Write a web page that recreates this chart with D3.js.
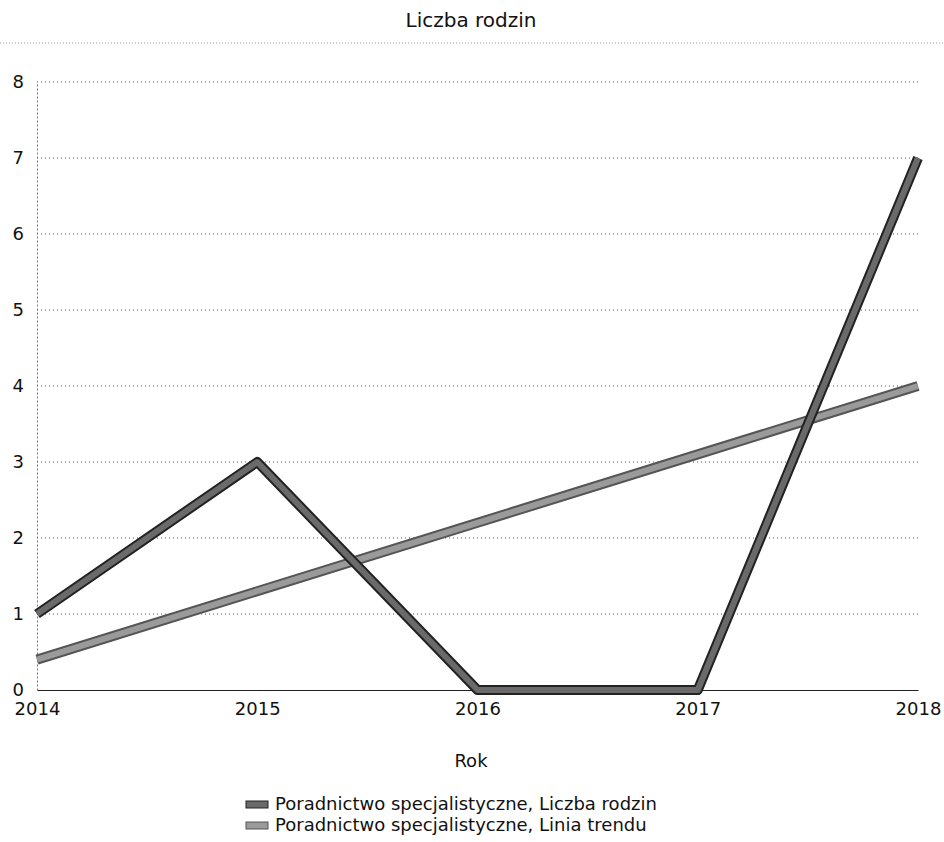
<!DOCTYPE html>
<meta charset="utf-8">
<style>
  body { margin: 0; background: #fff; }
  text { font-family: "DejaVu Sans", sans-serif; fill: #111; }
</style>
<svg id="chart" width="944" height="842"></svg>
<script src="https://d3js.org/d3.v7.min.js"></script>
<script>

// data
var years = [2014, 2015, 2016, 2017, 2018];
var rodziny = [1, 3, 0, 0, 7];
var trend = [0.4, 1.3, 2.2, 3.1, 4.0];
var yTicks = [0, 1, 2, 3, 4, 5, 6, 7, 8];
var legendLabels = ["Poradnictwo specjalistyczne, Liczba rodzin", "Poradnictwo specjalistyczne, Linia trendu"];

var svg = d3.select("#chart");

var x = d3.scaleLinear().domain([2014, 2018]).range([37, 918]);
var y = d3.scaleLinear().domain([0, 8]).range([690, 82]);

// title + dotted rule under it
svg.append("text")
  .attr("x", 471).attr("y", 27)
  .attr("text-anchor", "middle")
  .style("font-size", "20px")
  .text("Liczba rodzin");
svg.append("line")
  .attr("x1", 0).attr("x2", 944).attr("y1", 43).attr("y2", 43)
  .attr("stroke", "#999").attr("stroke-dasharray", "1,2");

// grid
svg.append("g")
  .selectAll("line")
  .data(yTicks.filter(function(d) { return d > 0; }))
  .enter().append("line")
    .attr("x1", x(2014)).attr("x2", x(2018))
    .attr("y1", function(d) { return y(d); })
    .attr("y2", function(d) { return y(d); })
    .attr("stroke", "#555")
    .attr("stroke-dasharray", "1,3");

// axes
var yAxis = svg.append("g")
  .attr("transform", "translate(" + x(2014) + ",0)")
  .call(d3.axisLeft(y).tickValues(yTicks).tickSize(0).tickPadding(13));
yAxis.select(".domain").attr("stroke", "#777").attr("stroke-dasharray", "2,2");
yAxis.selectAll("text").style("font-size", "18px").style("font-family", "\"DejaVu Sans\", sans-serif");

var xAxis = svg.append("g")
  .attr("transform", "translate(0," + y(0) + ")")
  .call(d3.axisBottom(x).tickValues(years).tickFormat(d3.format("d")).tickSize(0).tickPadding(12));
xAxis.select(".domain").attr("stroke", "#222");
xAxis.selectAll("text").style("font-size", "18px").style("font-family", "\"DejaVu Sans\", sans-serif");

svg.append("text")
  .attr("x", 471).attr("y", 767)
  .attr("text-anchor", "middle")
  .style("font-size", "18px")
  .text("Rok");

// lines: dark outline, grey fill
var line = d3.line()
  .x(function(d, i) { return x(years[i]); })
  .y(function(d) { return y(d); });

var series = [
  { values: rodziny, outer: "#222", inner: "#6a6a6a" },
  { values: trend, outer: "#555", inner: "#9a9a9a" }
];

series.slice().reverse().forEach(function(s) {
  svg.append("path").datum(s.values)
    .attr("d", line).attr("fill", "none")
    .attr("stroke", s.outer).attr("stroke-width", 10)
    .attr("stroke-linejoin", "round");
  svg.append("path").datum(s.values)
    .attr("d", line).attr("fill", "none")
    .attr("stroke", s.inner).attr("stroke-width", 6)
    .attr("stroke-linejoin", "round");
});

// legend
var legend = svg.append("g")
  .selectAll("g")
  .data(legendLabels)
  .enter().append("g")
    .attr("transform", function(d, i) { return "translate(246," + (810 + i * 21) + ")"; });
legend.append("rect")
  .attr("x", 0).attr("y", -9).attr("width", 22).attr("height", 7)
  .attr("fill", function(d, i) { return series[i].inner; })
  .attr("stroke", function(d, i) { return series[i].outer; });
legend.append("text")
  .attr("x", 29).attr("y", 0)
  .style("font-size", "18px")
  .text(function(d) { return d; });

</script>
